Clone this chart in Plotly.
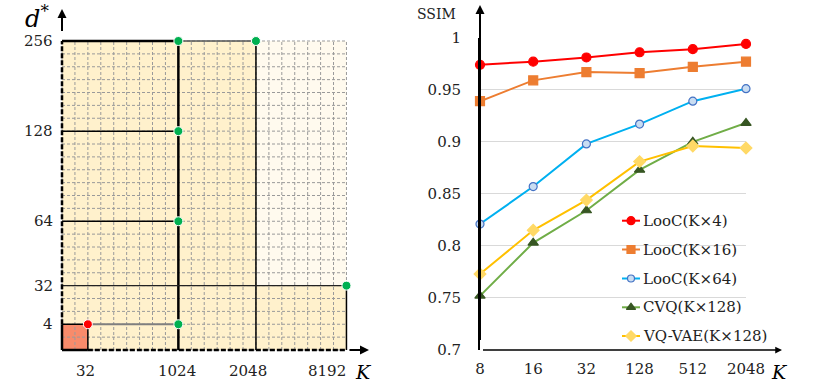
import plotly.graph_objects as go

# ---------------- data ----------------
# Left panel: schematic of (K, d*) configurations on a grid
K_TICKS = ["32", "1024", "2048", "8192"]
K_GRID = [2, 9, 15, 22]            # grid-cell index of each K tick
D_TICKS = ["4", "32", "64", "128", "256"]
D_GRID = [2, 5, 10, 17, 24]        # grid-cell index of each d* tick
GREEN_K = ["1024", "2048", "1024", "1024", "8192", "1024"]
GREEN_D = ["256", "256", "128", "64", "32", "4"]
RED_K = ["32"]
RED_D = ["4"]

# Right panel: SSIM vs K
K_CATS = ["8", "16", "32", "128", "512", "2048"]
SERIES_NAMES = ["LooC(K×4)", "LooC(K×16)", "LooC(K×64)", "CVQ(K×128)", "VQ-VAE(K×128)"]
LOOC4 = [0.974, 0.977, 0.981, 0.986, 0.989, 0.994]
LOOC16 = [0.939, 0.959, 0.967, 0.966, 0.972, 0.977]
LOOC64 = [0.821, 0.857, 0.898, 0.917, 0.939, 0.951]
CVQ = [0.752, 0.803, 0.834, 0.873, 0.900, 0.918]
VQVAE = [0.773, 0.815, 0.844, 0.881, 0.896, 0.894]
Y_TICKS = [0.7, 0.75, 0.8, 0.85, 0.9, 0.95, 1.0]
Y_TICK_TEXT = ["0.7", "0.75", "0.8", "0.85", "0.9", "0.95", "1"]

# ---------------- layout constants ----------------
W, H = 817, 387
OFF = 0                       # page offset of the figure (body margin removed below)
FONT = "DejaVu Serif"
kpos = dict(zip(K_TICKS, K_GRID))
dpos = dict(zip(D_TICKS, D_GRID))

def fx(px):   # page pixel x -> paper fraction
    return (px - OFF) / W

def fy(py):   # page pixel y -> paper fraction
    return 1 - (py - OFF) / H

# left panel pixel mapping (page pixels)
LX0, LY0 = 62, 350
SX, SY = 12.93, 12.875
L_RIGHT_PX = 400
xr_left = [(OFF - LX0) / SX, (L_RIGHT_PX - LX0) / SX]
yr_left = [(LY0 - (H + OFF)) / SY, (LY0 - OFF) / SY]
XMAX, YMAX = K_GRID[-1], D_GRID[-1]

fig = go.Figure()
shapes = []

def rect(x0, y0, x1, y1, color):
    shapes.append(dict(type="rect", xref="x", yref="y", x0=x0, y0=y0, x1=x1, y1=y1,
                       fillcolor=color, line=dict(width=0), layer="below"))

def seg(x0, y0, x1, y1, color="black", width=1.5, dash="solid"):
    shapes.append(dict(type="line", xref="x", yref="y", x0=x0, y0=y0, x1=x1, y1=y1,
                       line=dict(color=color, width=width, dash=dash), layer="below"))

k1024, k2048, k8192, k32 = kpos["1024"], kpos["2048"], kpos["8192"], kpos["32"]
d256, d128, d64, d32, d4 = dpos["256"], dpos["128"], dpos["64"], dpos["32"], dpos["4"]

# fills
rect(k2048, d32, XMAX, YMAX, "#FFFAEE")
rect(0, 0, k2048, YMAX, "#FFF1CC")
rect(k2048, 0, XMAX, d32, "#FFF1CC")
rect(0, 0, k32, d4, "#F88B6B")

# grid
for i in range(0, XMAX + 1):
    seg(i, 0, i, YMAX, color="#9A9A9A", width=1, dash="3px,2px")
for j in range(0, YMAX + 1):
    seg(0, j, XMAX, j, color="#9A9A9A", width=1, dash="3px,2px")

# structure lines
seg(0, d256, k1024, d256, "black", 2.5)
seg(k1024, d256, k2048, d256, "#555555", 1.5)
seg(k1024, 0, k1024, d256, "black", 2.5)
seg(k2048, 0, k2048, d256, "black", 1.5)
seg(k8192, 0, k8192, d32, "black", 1.5)
seg(0, d128, k1024, d128, "black", 1.5)
seg(0, d64, k1024, d64, "black", 1.5)
seg(0, d32, k8192, d32, "#222222", 1.3)
seg(k32, d4, k1024, d4, "#7F7F7F", 2)
seg(k32, 0, k32, d4, "black", 1.5)
seg(0, d4, k32, d4, "black", 1.5)
# axes
seg(0, 0, k32, 0, "black", 2.5)
seg(k32, 0, XMAX, 0, "black", 2.5, "5px,2px")
seg(0, 0, 0, d4, "black", 2.5)
seg(0, d4, 0, d256, "black", 2.5, "5px,2px")

fig.add_trace(go.Scatter(
    x=[kpos[k] for k in GREEN_K], y=[dpos[d] for d in GREEN_D], mode="markers",
    marker=dict(color="#00B050", size=9, line=dict(color="white", width=1)),
    showlegend=False, xaxis="x", yaxis="y", cliponaxis=False))
fig.add_trace(go.Scatter(
    x=[kpos[k] for k in RED_K], y=[dpos[d] for d in RED_D], mode="markers",
    marker=dict(color="#FF0000", size=9, line=dict(color="white", width=1)),
    showlegend=False, xaxis="x", yaxis="y", cliponaxis=False))

annotations = []
# arrows left
annotations.append(dict(x=0, y=(LY0 - 9) / SY, ax=0, ay=d256, xref="x", yref="y",
                        axref="x", ayref="y", showarrow=True, arrowhead=2, arrowsize=0.9,
                        arrowwidth=2, arrowcolor="black", text=" "))
annotations.append(dict(x=(369 - LX0) / SX, y=0, ax=XMAX, ay=0, xref="x", yref="y",
                        axref="x", ayref="y", showarrow=True, arrowhead=2, arrowsize=0.9,
                        arrowwidth=2, arrowcolor="black", text=" "))
# left tick labels
K_LABEL_SHIFT = [-2, -1, -8, -19]
for t, p, sh in zip(K_TICKS, K_GRID, K_LABEL_SHIFT):
    annotations.append(dict(x=p, y=0, xref="x", yref="y", text=t, showarrow=False,
                            xanchor="center", yanchor="middle",
                            yshift=-21, xshift=sh, font=dict(family=FONT, size=15, color="#222")))
for t, p in zip(D_TICKS, D_GRID):
    annotations.append(dict(x=0, y=p, xref="x", yref="y", text=t, showarrow=False,
                            xanchor="right", yanchor="middle", xshift=-7,
                            font=dict(family=FONT, size=15, color="#222")))
annotations.append(dict(x=fx(23), y=fy(17), xref="paper", yref="paper", xanchor="left",
                        yanchor="middle", text="<i>d</i><sup>*</sup>", showarrow=False,
                        font=dict(family=FONT, size=24, color="black")))
annotations.append(dict(x=fx(363), y=fy(372), xref="paper", yref="paper", text="<i>K</i>",
                        xanchor="center", yanchor="middle",
                        showarrow=False, font=dict(family=FONT, size=19, color="black")))

# ---------------- right panel ----------------
RX0, RX1 = 480, 746
RY0, RY1 = 350, 37.7
colors = ["#FF0000", "#ED7D31", "#00B0F0", "#70AD47", "#FFC000"]
msym = ["circle", "square", "circle", "triangle-up", "diamond"]
mcol = ["#FF0000", "#ED7D31", "#C9DDF2", "#375623", "#FFD966"]
mline = ["#FF0000", "#ED7D31", "#4472C4", "#375623", "#FFD966"]
msize = [9, 9, 8, 9, 9]
series = [LOOC4, LOOC16, LOOC64, CVQ, VQVAE]
xi = list(range(len(K_CATS)))
for name, ys, c, s, mc, ml, ms in zip(SERIES_NAMES, series, colors, msym, mcol, mline, msize):
    fig.add_trace(go.Scatter(
        x=xi, y=ys, mode="lines+markers", name=name, xaxis="x2", yaxis="y2",
        line=dict(color=c, width=2), cliponaxis=False, showlegend=False,
        marker=dict(symbol=s, color=mc, size=ms, line=dict(color=ml, width=1.2))))

annotations.append(dict(x=0, y=fy(5), xref="x2", yref="paper", ax=0, ay=RY0 - 5,
                        showarrow=True, arrowhead=2, arrowsize=0.9, arrowwidth=2,
                        arrowcolor="black", text=" "))
annotations.append(dict(x=fx(782), y=0.7, xref="paper", yref="y2", ax=-(782 - RX0), ay=0,
                        showarrow=True, arrowhead=2, arrowsize=0.9, arrowwidth=1.5,
                        arrowcolor="black", text=" "))
annotations.append(dict(x=fx(437), y=fy(14), xref="paper", yref="paper", text="SSIM",
                        xanchor="center", yanchor="middle",
                        showarrow=False, font=dict(family=FONT, size=14, color="#222")))
annotations.append(dict(x=fx(779), y=fy(372), xref="paper", yref="paper", text="<i>K</i>",
                        xanchor="center", yanchor="middle",
                        showarrow=False, font=dict(family=FONT, size=19, color="black")))

# custom legend in pixel space (page pixels)
LEG_Y = [220.7, 249.5, 278.5, 307.3, 336]
for name, c, s, mc, ml, ms, ly in zip(SERIES_NAMES, colors, msym, mcol, mline, msize, LEG_Y):
    fig.add_trace(go.Scatter(
        x=[622, 640], y=[ly, ly], mode="lines", line=dict(color=c, width=2),
        xaxis="x3", yaxis="y3", showlegend=False, hoverinfo="skip"))
    fig.add_trace(go.Scatter(
        x=[631], y=[ly], mode="markers", xaxis="x3", yaxis="y3", showlegend=False,
        marker=dict(symbol=s, color=mc, size=ms - 1, line=dict(color=ml, width=1.2)),
        hoverinfo="skip"))
    annotations.append(dict(x=641, y=ly, xref="x3", yref="y3", text=name, showarrow=False,
                            xanchor="left", yanchor="middle",
                            font=dict(family=FONT, size=15, color="#222")))

fig.update_layout(
    width=W, height=H, autosize=False,
    margin=dict(l=0, r=0, t=0, b=0, pad=0, autoexpand=False),
    paper_bgcolor="white", plot_bgcolor="rgba(0,0,0,0)",
    shapes=shapes, annotations=annotations, showlegend=False,
    xaxis=dict(domain=[0, fx(L_RIGHT_PX)], range=xr_left, visible=False, fixedrange=True,
               automargin=False),
    yaxis=dict(domain=[0, 1], range=yr_left, visible=False, fixedrange=True, automargin=False),
    xaxis2=dict(domain=[fx(RX0), fx(RX1)], range=[0, len(K_CATS) - 1], anchor="y2",
                tickvals=xi, ticktext=K_CATS, showgrid=False, zeroline=False,
                showline=False, ticks="", ticklabelstandoff=8, automargin=False,
                tickfont=dict(family=FONT, size=15, color="#222")),
    yaxis2=dict(domain=[fy(RY0), fy(RY1)], range=[0.7, 1.0], anchor="x2",
                tickvals=Y_TICKS, ticktext=Y_TICK_TEXT, showgrid=True, gridcolor="#D9D9D9",
                gridwidth=1, zeroline=False, showline=True, linecolor="black", linewidth=2,
                ticks="", ticklabelstandoff=14, automargin=False,
                tickfont=dict(family=FONT, size=15, color="#222")),
    xaxis3=dict(domain=[0, 1], range=[OFF, W + OFF], visible=False, anchor="y3", automargin=False),
    yaxis3=dict(domain=[0, 1], range=[H + OFF, OFF], visible=False, anchor="x3", automargin=False),
)

fig.write_html("out.html",
               config={"displayModeBar": False, "staticPlot": True},
               post_script="document.body.style.margin='0px';document.body.style.padding='0px';"
                           "document.body.style.overflow='hidden';")
